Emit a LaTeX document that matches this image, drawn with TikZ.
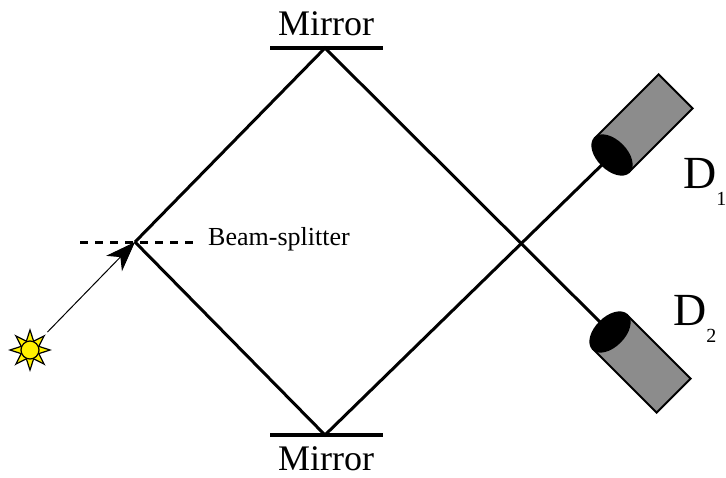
\documentclass[tikz,border=0pt]{standalone}
\usepackage{fontspec}
\setmainfont{Liberation Serif}
\usetikzlibrary{arrows.meta,shapes.geometric}
\begin{document}
\begin{tikzpicture}[x=1pt,y=-1pt,
    beam/.style={line width=3pt},
    mirror/.style={line width=3.5pt},
    tube/.style={fill=black!45,draw=black,line width=2pt},
    label/.style={inner sep=0pt,font=\fontsize{36}{36}\selectfont},
  ]
    \useasboundingbox (0,0) rectangle (726,477);

    \coordinate (split) at (135,242);
    \coordinate (mtop) at (325,48);
    \coordinate (mbot) at (325,435);
    \coordinate (det1) at (612,155);
    \coordinate (det2) at (610,332);

    % beams
    \draw[beam] (split) -- (mtop) -- (det2);
    \draw[beam] (split) -- (mbot) -- (det1);

    % mirrors and splitter
    \draw[mirror] ([xshift=-55pt]mtop) -- ([xshift=58pt]mtop);
    \draw[mirror] ([xshift=-55pt]mbot) -- ([xshift=58pt]mbot);
    \draw[beam,dash pattern=on 8pt off 7pt] ([xshift=-55pt]split) -- ([xshift=62pt]split);

    \node[label,anchor=base] (mtoplabel) at (326,35) {Mirror};
    \node[label,anchor=base] (mbotlabel) at (326,470) {Mirror};
    \node[inner sep=0pt,anchor=base west,font=\fontsize{26}{26}\selectfont]
      (splitlabel) at (208,245) {Beam-splitter};

    % source
    \node[star,star points=8,star point ratio=2.1,minimum size=40pt,inner sep=0pt,
      draw,fill=yellow,line width=1.2pt] (sun) at (30,350) {};
    \filldraw[fill=yellow,line width=1.2pt] (sun.center) circle (9);
    \draw[line width=1pt,-{Stealth[length=30pt,width=22pt,inset=9pt]},shorten <=4pt]
      (sun) -- (split);

    % detectors
    \begin{scope}[shift={(det1)},rotate=45]
      \filldraw[tube] (0,-24) rectangle (90,24);
      \filldraw[line width=2pt] (0,0) ellipse (14 and 24);
    \end{scope}
    \begin{scope}[shift={(det2)},rotate=-45]
      \filldraw[tube] (0,-24) rectangle (90,24);
      \filldraw[line width=2pt] (0,0) ellipse (14 and 24);
    \end{scope}

    \node[inner sep=0pt,anchor=base west,font=\fontsize{46}{46}\selectfont]
      (d1label) at (683,188) {D\raisebox{-17pt}{\fontsize{20}{20}\selectfont 1}};
    \node[inner sep=0pt,anchor=base west,font=\fontsize{46}{46}\selectfont]
      (d2label) at (673,325) {D\raisebox{-17pt}{\fontsize{20}{20}\selectfont 2}};
\end{tikzpicture}
\end{document}
